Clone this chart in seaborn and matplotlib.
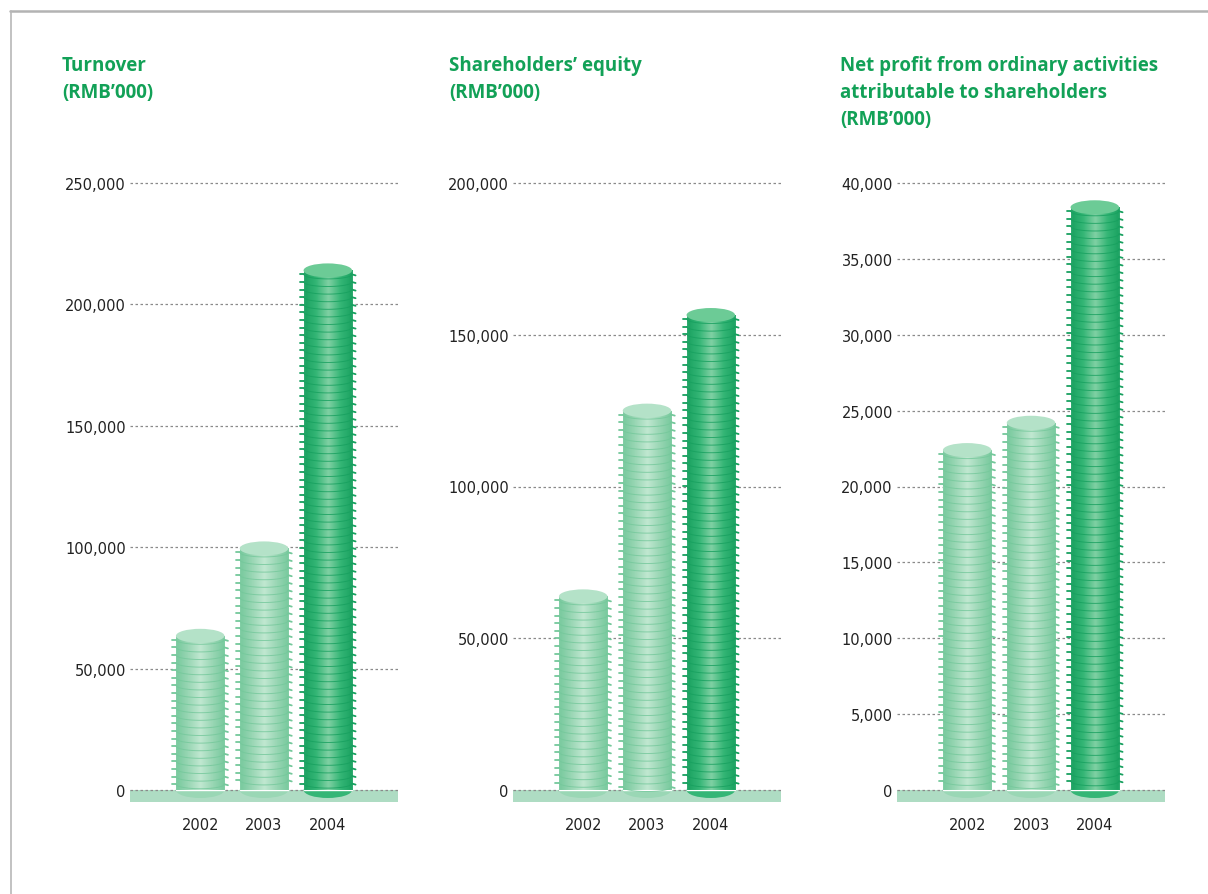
import numpy as np
import pandas as pd
import matplotlib
matplotlib.use("Agg")
import matplotlib.pyplot as plt
import seaborn as sns
from matplotlib.patches import Ellipse
from matplotlib.lines import Line2D
from matplotlib.colors import LinearSegmentedColormap

# ---- data ----
years = ["2002", "2003", "2004"]
turnover = [63500, 99500, 214000]
equity = [63800, 125000, 156500]
net_profit = [22400, 24200, 38400]

titles = ["Turnover\n(RMB\u2019000)",
          "Shareholders\u2019 equity\n(RMB\u2019000)",
          "Net profit from ordinary activities\nattributable to shareholders\n(RMB\u2019000)"]
ticks_turnover = [0, 50000, 100000, 150000, 200000, 250000]
ticks_equity = [0, 50000, 100000, 150000, 200000]
ticks_profit = [0, 5000, 10000, 15000, 20000, 25000, 30000, 35000, 40000]

series = [turnover, equity, net_profit]
tick_sets = [ticks_turnover, ticks_equity, ticks_profit]

sns.set_theme(style="white")
plt.rcParams["font.family"] = ["DejaVu Sans"]

W, H = 1208, 895
fig = plt.figure(figsize=(W / 100, H / 100), dpi=100)

lefts = [130, 513, 897]
title_x = [62, 449, 840]
AX_W = 268
TOP_PX, BOT_PX, ZERO_PX, TOPTICK_PX = 170, 803, 791, 184

GREEN_T = "#12a157"
LIGHT = dict(fill="#9ad7b5", center="#c6ead5", ring="#74c89b", cap="#b4e2c8")
DARK = dict(fill="#35b676", center="#8ad4aa", ring="#17a05f", cap="#6ccb96")
BAND = "#aedcc3"

for i in range(3):
    vals = series[i]
    ticks = tick_sets[i]
    left = lefts[i]
    ax = fig.add_axes([left / W, (H - BOT_PX) / H, AX_W / W, (BOT_PX - TOP_PX) / H])
    ymax = ticks[-1]
    ppu = (ZERO_PX - TOPTICK_PX) / ymax  # px per unit
    ylim = (-(BOT_PX - ZERO_PX) / ppu, ymax + (TOPTICK_PX - TOP_PX) / ppu)
    xlim = (-1.1, 3.1)
    dxpx = (xlim[1] - xlim[0]) / AX_W

    df = pd.DataFrame({"year": years, "value": vals})
    pal = {"2002": LIGHT["fill"], "2003": LIGHT["fill"], "2004": DARK["fill"]}
    sns.barplot(data=df, x="year", y="value", hue="year", palette=pal,
                width=0.76, legend=False, ax=ax, saturation=1, zorder=3)
    bars = list(ax.patches)

    ax.axhspan(ylim[0], 0, color=BAND, zorder=1, lw=0)
    for t in ticks:
        ax.axhline(t, color="#8a8a8a", lw=0.9, ls=(0, (2, 2)), zorder=2)

    for j, p in enumerate(bars):
        sty = DARK if j == 2 else LIGHT
        x0, w, h = p.get_x(), p.get_width(), p.get_height()
        cx = x0 + w / 2
        # horizontal gradient
        cmap = LinearSegmentedColormap.from_list("g", [sty["ring"], sty["fill"], sty["center"], sty["fill"], sty["ring"]])
        grad = np.linspace(0, 1, 64).reshape(1, -1)
        im = ax.imshow(grad, cmap=cmap, extent=(x0, x0 + w, 0, h), aspect="auto", zorder=3.2,
                       alpha=0.9)
        im.set_clip_path(p)
        # bottom curve
        ax.add_patch(Ellipse((cx, 0), w, 2 * 8 / ppu, facecolor=sty["fill"], edgecolor="none", zorder=2.6))
        # coin rings
        sp = 7.6 / ppu
        sag = 4.5 / ppu
        u = np.linspace(-1, 1, 40)
        xs = cx + u * w / 2
        n = int((h * ppu - 6) / 7.6)
        for k in range(n + 1):
            y0 = h - 4 / ppu - k * sp
            ax.plot(xs, y0 - sag * np.sqrt(1 - u ** 2), color=sty["ring"], lw=0.7, zorder=3.5, alpha=0.8)
            ax.plot([x0 - 3.5 * dxpx, x0], [y0, y0], color=sty["ring"], lw=1.3, zorder=3.5)
            ax.plot([x0 + w, x0 + w + 3.5 * dxpx], [y0, y0 - 1 / ppu], color=sty["ring"], lw=1.3, zorder=3.5)
        # top cap
        ax.add_patch(Ellipse((cx, h), w, 2 * 7 / ppu, facecolor=sty["cap"], edgecolor="none", zorder=3.8))

    ax.set_xlim(*xlim)
    ax.set_ylim(*ylim)
    ax.set_yticks(ticks)
    ax.set_yticklabels([f"{t:,}" for t in ticks], fontsize=10.5, color="#222222")
    ax.set_xticks([0, 1, 2])
    ax.set_xticklabels(years, fontsize=10.5, color="#222222")
    ax.tick_params(axis="y", length=0, pad=3)
    ax.tick_params(axis="x", length=0, pad=11)
    ax.set_xlabel("")
    ax.set_ylabel("")
    for s in ax.spines.values():
        s.set_visible(False)
    ax.grid(False)

    fig.text(title_x[i] / W, 1 - 56 / H, titles[i], ha="left", va="top",
             fontsize=13.5, fontweight="bold", color=GREEN_T,
             family=["Open Sans", "DejaVu Sans"], linespacing=1.45)

fig.add_artist(Line2D([10 / W, 1], [1 - 11.5 / H, 1 - 11.5 / H], color="#b3b3b3", lw=1.8))
fig.add_artist(Line2D([10.5 / W, 10.5 / W], [0, 1 - 11.5 / H], color="#b8b8b8", lw=1.2))

fig.savefig("out.png", dpi=100)
